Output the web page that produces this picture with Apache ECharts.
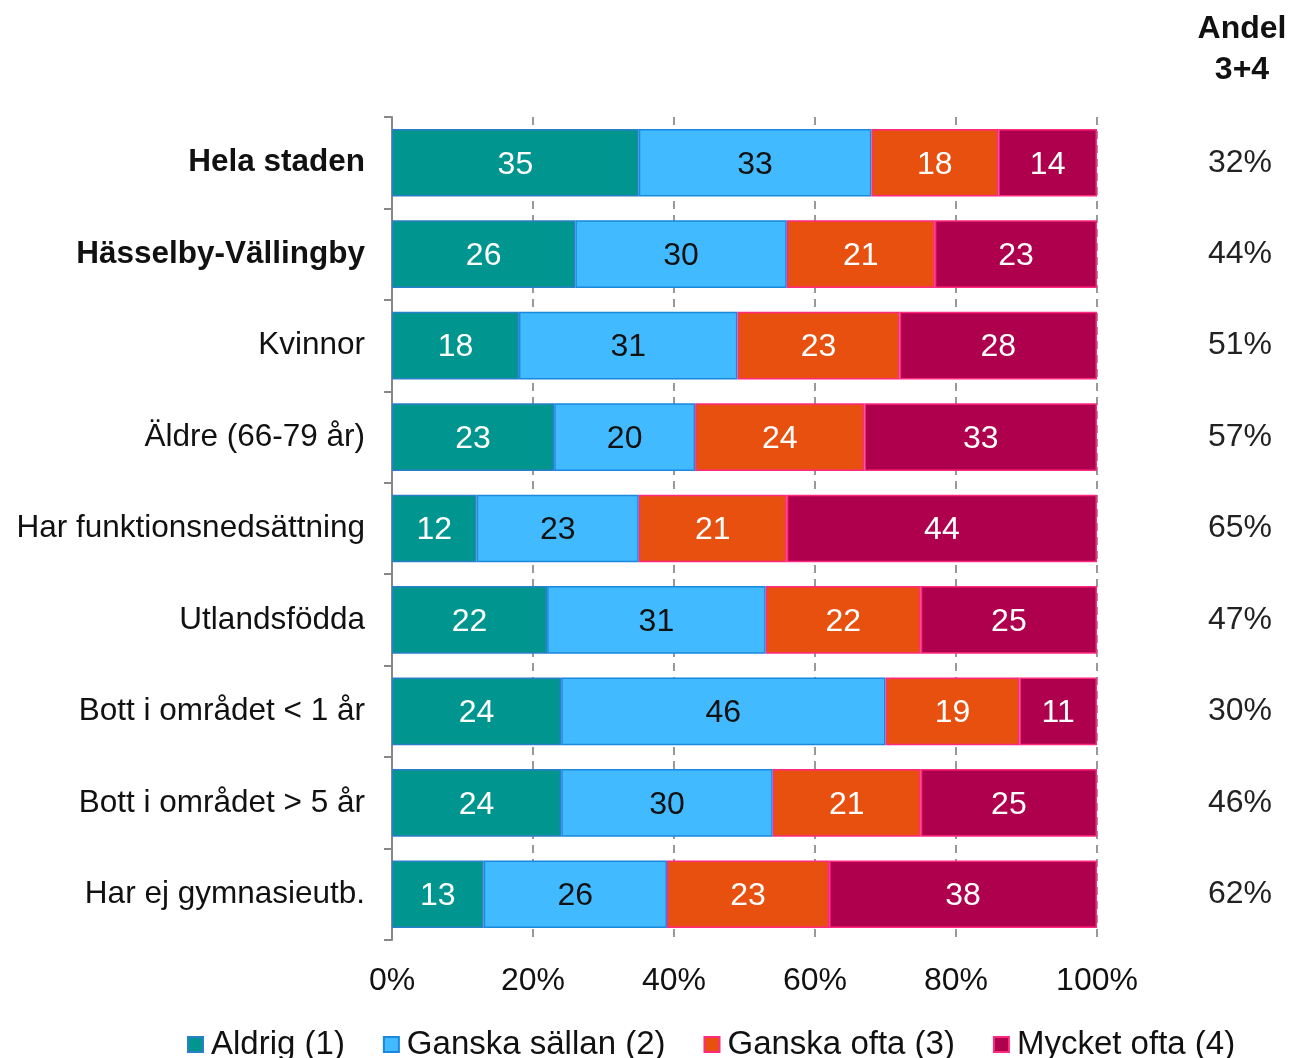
<!DOCTYPE html>
<html>
<head>
<meta charset="utf-8">
<script src="https://cdn.jsdelivr.net/npm/echarts@6/dist/echarts.min.js"></script>
<style>
  html, body { margin: 0; padding: 0; background: #fff; }
  #chart { width: 1291px; height: 1058px; }
</style>
</head>
<body>
<div id="chart"></div>
<script>
// kategorier (uppifrån och ned)
const categories = ['Hela staden', 'Hässelby-Vällingby', 'Kvinnor', 'Äldre (66-79 år)',
  'Har funktionsnedsättning', 'Utlandsfödda', 'Bott i området < 1 år',
  'Bott i området > 5 år', 'Har ej gymnasieutb.']
const boldRows = ['Hela staden', 'Hässelby-Vällingby']

const aldrig = [35, 26, 18, 23, 12, 22, 24, 24, 13]
const ganskaSallan = [33, 30, 31, 20, 23, 31, 46, 30, 26]
const ganskaOfta = [18, 21, 23, 24, 21, 22, 19, 21, 23]
const mycketOfta = [14, 23, 28, 33, 44, 25, 11, 25, 38]
const andel34 = ['32%', '44%', '51%', '57%', '65%', '47%', '30%', '46%', '62%']

const xTicks = [0, 20, 40, 60, 80, 100]

const font = '"Liberation Sans", Arial, sans-serif'
const fs = 32

function bar(name, data, color, border, labelColor) {
  return {
    name: name,
    type: 'bar',
    stack: 'tot',
    barWidth: '74%',
    data: data,
    itemStyle: { color: color, borderColor: border, borderWidth: 1.5 },
    label: {
      show: true,
      position: 'inside',
      color: labelColor,
      fontSize: fs,
      fontFamily: font,
      offset: [0, 2]
    }
  }
}

const chart = echarts.init(document.getElementById('chart'))
chart.setOption({
  animation: false,
  textStyle: { fontFamily: font },
  title: {
    text: 'Andel\n3+4',
    left: 1237,
    top: 4,
    textAlign: 'center',
    textStyle: { fontSize: fs, fontWeight: 'bold', color: '#111', lineHeight: 41, fontFamily: font }
  },
  grid: { left: 392, right: 194, top: 117, bottom: 118 },
  legend: {
    top: 1023,
    left: 182,
    itemWidth: 15,
    itemHeight: 15,
    itemGap: 38,
    icon: 'rect',
    textStyle: { fontSize: 33, color: '#111', fontFamily: font, padding: [0, 0, 0, 3] }
  },
  xAxis: {
    type: 'value',
    min: xTicks[0],
    max: xTicks[xTicks.length - 1],
    interval: 20,
    axisLine: { show: false },
    axisTick: { show: false },
    splitLine: { show: true, lineStyle: { color: '#999', width: 2, type: [8, 6] } },
    axisLabel: { formatter: '{value}%', fontSize: fs, color: '#111', margin: 25 }
  },
  yAxis: [{
    type: 'category',
    inverse: true,
    data: categories,
    axisLine: { show: true, lineStyle: { color: '#888', width: 2 } },
    axisTick: { show: true, length: 8, lineStyle: { color: '#888', width: 2 } },
    axisLabel: {
      margin: 27,
      fontSize: 31.5,
      color: '#111',
      formatter: function (v) {
        return boldRows.indexOf(v) >= 0 ? '{b|' + v + '}' : v
      },
      rich: { b: { fontWeight: 'bold', fontSize: 31.5, color: '#111', fontFamily: font } }
    }
  }, {
    type: 'category',
    inverse: true,
    position: 'right',
    data: andel34,
    axisLine: { show: false },
    axisTick: { show: false },
    axisLabel: { margin: 143, align: 'center', fontSize: fs, color: '#222' }
  }],
  series: [
    bar('Aldrig (1)', aldrig, '#00968F', '#2a80c8', '#fff'),
    bar('Ganska sällan (2)', ganskaSallan, '#42BAFF', '#1a88dd', '#111'),
    bar('Ganska ofta (3)', ganskaOfta, '#E85010', '#ff2a80', '#fff'),
    bar('Mycket ofta (4)', mycketOfta, '#AE004C', '#ff2a80', '#fff')
  ]
})
</script>
</body>
</html>
